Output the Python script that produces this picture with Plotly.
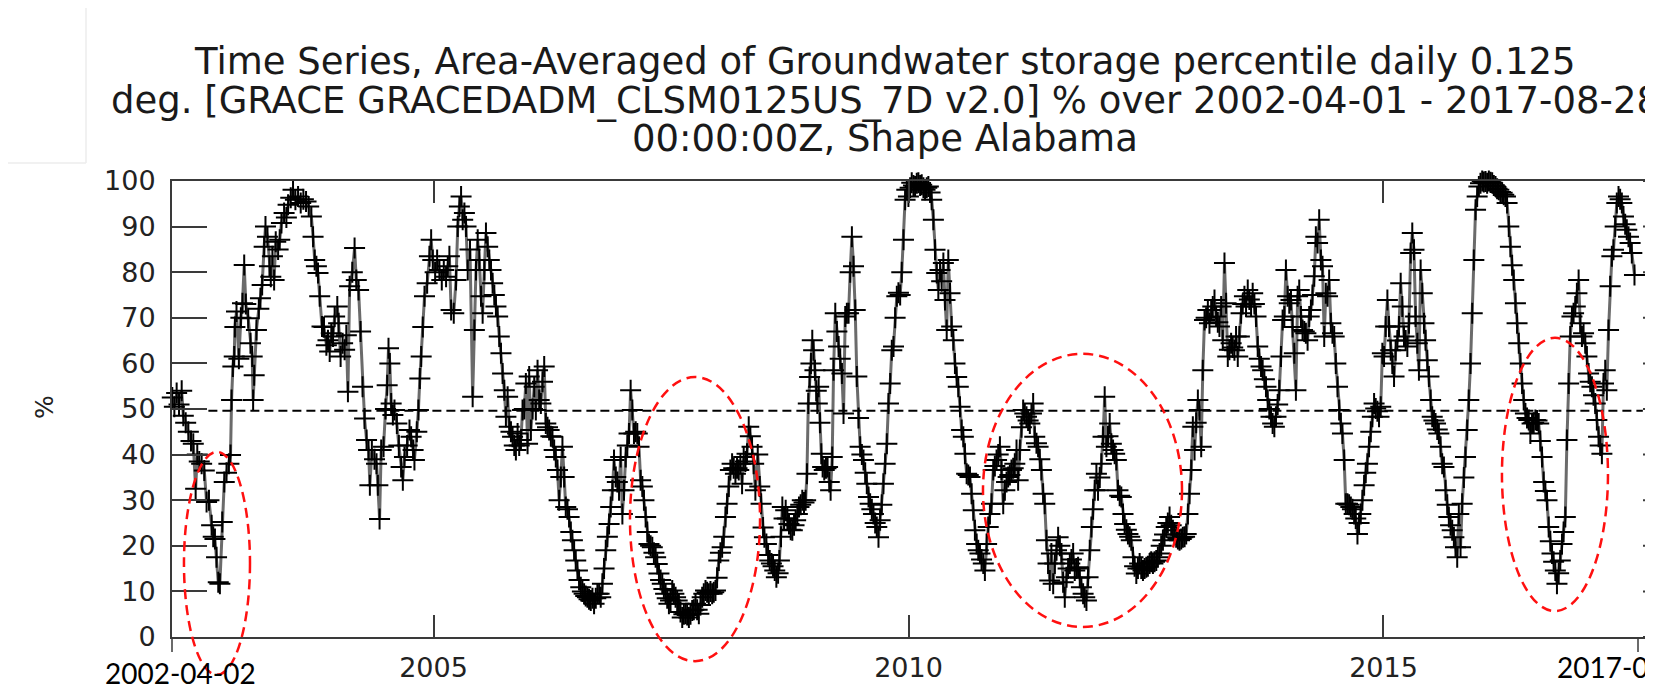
import plotly.graph_objects as go

# ---------------- data (decimal year, percentile) ----------------
years = [
 2002.250,2002.272,2002.296,2002.321,2002.349,2002.366,2002.391,2002.419,2002.447,2002.471,
 2002.496,2002.513,2002.534,2002.559,2002.587,2002.611,2002.636,2002.664,2002.681,2002.699,
 2002.716,2002.734,2002.751,2002.776,2002.797,2002.821,2002.846,2002.863,2002.874,2002.888,
 2002.902,2002.909,2002.926,2002.951,2002.972,2002.989,2003.007,2003.024,2003.049,2003.073,
 2003.091,2003.101,2003.112,2003.136,2003.161,2003.178,2003.196,2003.217,2003.231,2003.252,
 2003.273,2003.287,2003.304,2003.322,2003.339,2003.364,2003.381,2003.399,2003.427,2003.451,
 2003.469,2003.497,2003.521,2003.546,2003.574,2003.602,2003.630,2003.658,2003.686,2003.714,
 2003.732,2003.749,2003.767,2003.784,2003.802,2003.826,2003.847,2003.872,2003.889,2003.907,
 2003.924,2003.942,2003.959,2003.987,2004.001,2004.022,2004.043,2004.064,2004.082,2004.099,
 2004.117,2004.145,2004.169,2004.187,2004.211,2004.232,2004.253,2004.274,2004.295,2004.316,
 2004.330,2004.351,2004.379,2004.400,2004.414,2004.432,2004.449,2004.474,2004.495,2004.512,
 2004.526,2004.540,2004.554,2004.572,2004.589,2004.614,2004.635,2004.659,2004.677,2004.694,
 2004.722,2004.747,2004.764,2004.785,2004.799,2004.824,2004.841,2004.856,2004.870,2004.887,
 2004.905,2004.933,2004.957,2004.975,2004.992,2005.017,2005.038,2005.062,2005.087,2005.108,
 2005.132,2005.150,2005.167,2005.185,2005.213,2005.237,2005.255,2005.272,2005.290,2005.307,
 2005.325,2005.342,2005.360,2005.384,2005.412,2005.430,2005.447,2005.465,2005.482,2005.500,
 2005.517,2005.535,2005.552,2005.570,2005.587,2005.605,2005.622,2005.640,2005.657,2005.675,
 2005.692,2005.710,2005.727,2005.745,2005.762,2005.780,2005.797,2005.815,2005.832,2005.850,
 2005.867,2005.885,2005.902,2005.920,2005.937,2005.955,2005.972,2005.990,2006.007,2006.025,
 2006.042,2006.060,2006.077,2006.095,2006.112,2006.130,2006.147,2006.165,2006.182,2006.200,
 2006.217,2006.235,2006.252,2006.270,2006.287,2006.305,2006.322,2006.340,2006.357,2006.375,
 2006.392,2006.410,2006.427,2006.445,2006.462,2006.480,2006.497,2006.515,2006.532,2006.550,
 2006.567,2006.585,2006.602,2006.620,2006.637,2006.655,2006.673,2006.690,2006.708,2006.725,
 2006.743,2006.760,2006.778,2006.795,2006.813,2006.830,2006.848,2006.865,2006.883,2006.900,
 2006.918,2006.935,2006.953,2006.970,2006.988,2007.005,2007.023,2007.040,2007.058,2007.075,
 2007.093,2007.110,2007.128,2007.145,2007.163,2007.180,2007.198,2007.215,2007.233,2007.250,
 2007.268,2007.285,2007.303,2007.320,2007.338,2007.355,2007.373,2007.390,2007.408,2007.425,
 2007.443,2007.460,2007.478,2007.495,2007.513,2007.530,2007.548,2007.565,2007.583,2007.600,
 2007.618,2007.635,2007.653,2007.670,2007.688,2007.705,2007.723,2007.740,2007.758,2007.775,
 2007.793,2007.810,2007.828,2007.845,2007.863,2007.880,2007.898,2007.915,2007.933,2007.950,
 2007.968,2007.985,2008.003,2008.020,2008.038,2008.055,2008.073,2008.090,2008.108,2008.125,
 2008.143,2008.160,2008.178,2008.195,2008.213,2008.230,2008.248,2008.265,2008.283,2008.300,
 2008.318,2008.335,2008.353,2008.370,2008.388,
 2008.413,2008.434,2008.448,2008.469,2008.483,2008.504,2008.522,2008.539,2008.557,2008.574,
 2008.592,2008.609,2008.627,2008.641,2008.658,2008.672,2008.690,2008.707,2008.725,2008.742,
 2008.760,2008.777,2008.795,2008.812,2008.830,2008.847,2008.865,2008.882,2008.900,2008.917,
 2008.931,2008.945,2008.959,2008.973,2008.987,2009.001,2009.015,2009.029,2009.040,2009.054,
 2009.068,2009.082,2009.096,2009.113,2009.131,2009.148,2009.166,2009.180,2009.197,2009.211,
 2009.229,2009.246,2009.264,2009.281,2009.299,2009.316,2009.334,2009.351,2009.369,2009.386,
 2009.404,2009.421,2009.439,2009.456,2009.474,2009.491,2009.509,2009.526,2009.544,2009.561,
 2009.579,2009.596,2009.614,2009.631,2009.649,2009.666,2009.684,2009.701,2009.719,2009.736,
 2009.754,2009.772,2009.789,2009.807,2009.824,2009.842,2009.859,2009.877,2009.894,2009.912,
 2009.929,2009.947,2009.964,2009.982,2009.999,2010.017,2010.034,2010.052,2010.069,2010.087,
 2010.104,2010.122,2010.139,2010.157,2010.174,2010.192,2010.209,2010.227,2010.244,2010.262,
 2010.279,2010.297,2010.314,2010.332,2010.349,2010.367,2010.384,2010.402,2010.419,2010.437,
 2010.454,2010.472,2010.489,2010.507,2010.524,2010.542,2010.559,2010.577,2010.594,2010.612,
 2010.629,2010.647,2010.664,2010.682,2010.699,2010.717,2010.734,2010.752,2010.769,2010.787,
 2010.804,2010.822,2010.839,2010.857,2010.874,2010.892,2010.909,2010.927,2010.944,2010.962,
 2010.979,2010.997,2011.014,2011.032,2011.049,2011.067,2011.084,2011.102,2011.119,2011.137,
 2011.154,2011.172,2011.189,2011.207,2011.224,2011.242,2011.259,2011.277,2011.294,2011.312,
 2011.329,2011.347,2011.364,2011.382,2011.399,2011.417,2011.434,2011.452,2011.469,2011.487,
 2011.504,
 2011.523,2011.540,2011.558,2011.575,2011.593,2011.610,2011.628,2011.645,2011.663,2011.680,
 2011.698,2011.715,2011.733,2011.750,2011.768,2011.785,2011.803,2011.820,2011.838,2011.855,
 2011.873,2011.890,2011.908,2011.925,2011.943,2011.960,2011.978,2011.995,2012.013,2012.030,
 2012.048,2012.065,2012.083,2012.100,2012.118,2012.135,2012.153,2012.170,2012.188,2012.205,
 2012.223,2012.240,2012.258,2012.275,2012.293,2012.310,2012.328,2012.345,2012.363,2012.380,
 2012.398,2012.415,2012.433,2012.450,2012.468,2012.485,2012.503,2012.520,2012.538,2012.555,
 2012.573,2012.590,2012.608,2012.625,2012.643,2012.660,2012.678,2012.695,2012.713,2012.730,
 2012.748,2012.765,2012.783,2012.800,2012.818,2012.836,2012.853,2012.871,2012.888,2012.906,
 2012.923,2012.941,2012.958,2012.976,2012.993,2013.011,2013.028,2013.046,2013.063,2013.081,
 2013.098,2013.116,2013.133,2013.151,2013.168,2013.186,2013.203,2013.221,2013.238,2013.256,
 2013.273,2013.291,2013.308,2013.326,2013.343,2013.361,2013.378,2013.396,2013.413,2013.431,
 2013.448,2013.466,2013.483,2013.501,2013.518,2013.536,2013.553,2013.571,2013.588,2013.606,
 2013.623,2013.641,2013.658,2013.676,2013.693,2013.711,2013.728,2013.746,2013.763,2013.781,
 2013.798,2013.816,2013.833,2013.851,2013.868,2013.886,2013.903,2013.921,2013.938,2013.956,
 2013.973,2013.991,2014.008,2014.026,2014.043,2014.061,2014.078,2014.096,2014.113,2014.131,
 2014.148,2014.166,2014.183,2014.201,2014.218,2014.236,2014.253,2014.271,2014.288,2014.306,
 2014.323,2014.341,2014.358,2014.376,2014.393,2014.411,2014.428,2014.446,2014.463,2014.481,
 2014.498,2014.516,2014.533,2014.551,2014.568,2014.586,2014.603,
 2014.621,2014.638,2014.656,2014.673,2014.691,2014.708,2014.726,2014.743,2014.761,2014.778,
 2014.796,2014.813,2014.831,2014.848,2014.866,2014.883,2014.901,2014.918,2014.936,2014.953,
 2014.971,2014.988,2015.006,2015.023,2015.041,2015.058,2015.076,2015.093,2015.111,2015.128,
 2015.146,2015.163,2015.181,2015.198,2015.216,2015.233,2015.251,2015.268,2015.286,2015.303,
 2015.321,2015.338,2015.356,2015.373,2015.391,2015.408,2015.426,2015.443,2015.461,2015.478,
 2015.496,2015.513,2015.531,2015.548,2015.566,2015.583,2015.601,2015.618,2015.636,2015.653,
 2015.671,2015.688,2015.706,2015.723,2015.741,2015.758,2015.776,2015.793,2015.811,2015.828,
 2015.846,2015.863,2015.881,2015.898,2015.916,2015.934,2015.951,2015.969,2015.986,2016.004,
 2016.021,2016.039,2016.056,2016.074,2016.091,2016.109,2016.126,2016.144,2016.161,2016.179,
 2016.196,2016.214,2016.231,2016.249,2016.266,2016.284,2016.301,2016.319,2016.336,2016.354,
 2016.371,2016.389,2016.406,2016.424,2016.441,2016.459,2016.476,2016.494,2016.511,2016.529,
 2016.546,2016.564,2016.581,2016.599,2016.616,2016.634,2016.651,2016.669,2016.686,2016.704,
 2016.721,2016.739,2016.756,2016.774,2016.791,2016.809,2016.826,2016.844,2016.861,2016.879,
 2016.896,2016.914,2016.931,2016.949,2016.966,2016.984,2017.001,2017.019,2017.036,2017.054,
 2017.071,2017.089,2017.106,2017.124,2017.141,2017.159,2017.176,2017.194,2017.211,2017.229,
 2017.246,2017.264,2017.281,2017.299,2017.316,2017.334,2017.351,2017.369,2017.386,2017.404,
 2017.421,2017.439,2017.456,2017.474,2017.491,2017.509,2017.526,2017.544,2017.561,2017.579,
 2017.596,2017.614,2017.642,
]

gw_pct = [
 52.5,50.5,53.5,51,54,48.5,47,45,43,42.4,
 32.5,40,38.5,38,36.5,29.6,30,24.5,22,21.5,
 17.5,12,11.7,25.2,34,36,38,39.9,52,59.3,
 61.5,68,71.4,61,70,73.2,81.6,73,69.9,64.4,
 61.5,52,57.4,67.3,72,74.3,77.2,85.6,90,87.8,
 81.3,79,83.5,78.3,86.7,85,87.1,90.8,93,92,
 94.8,96.3,98.1,95.9,96.6,95.2,96,95.5,94.4,92.2,
 87.8,82.7,81.3,79.8,74.7,68.1,68,64,65.1,62.6,
 66.6,65.9,70.3,72.5,68.8,61.5,64.4,63,66.2,53.8,
 76.9,80,85.3,78.3,76.1,67,54.9,47.9,43.2,41,
 33.3,41,39,38,33.3,25.9,41,41.7,50,55.2,
 63.3,60,51.2,48.7,49.8,46.8,42,37.3,34.4,39.5,
 42,45.4,43.9,41,38.8,45,49.8,56.7,61.5,68,
 74.7,77.6,83.5,87.1,82.7,80,82.7,80.5,78.3,80.5,
 79,81.3,83.5,71.7,71,78.3,90,94.4,96.6,91.5,
 93,90,80.5,85,52.7,67.3,80.5,87.1,82.7,74.7,
 71,80.5,88.6,85.6,82.7,80.5,77.6,75,72.5,70.3,
 65.9,62.2,57.8,54.1,48.3,52.7,46.1,45,43.9,42,
 41,44.6,42,43.2,49.8,50,55.6,42.4,57.1,45.4,
 50,54.9,49.8,58.5,52,51.2,56,59.3,46.8,46,
 45.4,44,43.9,41,39.5,36.6,30,35.1,41.7,35.1,
 28.5,28,26.3,23,21.2,19,16.8,14.6,12.5,10.9,
 10,9.5,9,8.7,8.3,8,8.5,7.3,8.5,9.5,
 9.5,8.7,11.7,15,19,22,24.8,28.5,32.2,38.8,
 35.1,34,32.2,39.5,27,32.2,39.5,42,44.6,54.1,
 49.8,44.6,45,44.6,41.7,34.4,33,30,26.3,23,
 20.4,20,19.7,18.5,17.5,16,13.9,12.5,11.7,10.5,
 9.5,8.5,7.3,8,10.2,9.5,8.7,8,7.3,5.5,
 4.3,5,5.1,4.8,4.3,5,5.8,6,7.3,6,
 5.1,7,8.7,9.5,10.2,9.8,9.5,10,9.5,9.8,
 10.2,13,16.8,18.5,19.7,22,26.3,29.2,33,36.6,
 38,37,35.8,37,36.6,38,33.6,39.5,38.5,40.2,
 46.1,44,41.7,38,32.2,
 40,33,29.2,24,21.9,20.4,18,16.8,16.1,15.5,
 14.6,13.1,14,16.8,22,28.5,26,27.8,26,24.8,
 23.5,23.4,24.5,25.6,27,28.5,29,30,29.5,30,
 35.8,51.2,57,60,65.1,62.9,58.5,54,51.2,54.9,
 47,40.2,37.3,36.6,37,37.3,34,32.2,39.5,58.5,
 71,67,63.7,61,57.8,49,70.3,71,71,80,
 87.8,81.3,71.7,57.1,48,41.7,40,38.8,36,33.6,
 30.7,29.2,28,27,25,24.1,21.9,25.6,29,33.6,
 38,42.4,51.2,55.6,62.9,63.7,70,74.7,75.5,75,
 80,87.1,95.9,98.1,96.6,98.5,99.6,99,98.8,99.5,
 99.6,99,99.2,98.5,98.1,98.5,98.8,97.5,95.9,91.5,
 84.9,79.8,76.1,80.5,78,82,73.9,67.3,82.7,75.4,
 68.1,65.1,60,57,54.9,50.5,45.4,43.9,40.2,35.8,
 35.5,35.1,31.4,27.8,23.4,20.4,19,18.3,17,16.1,
 14.6,20.4,24.1,27,29.2,36.6,37.5,38.8,40,41.7,
 36.6,29.2,32.2,34,35.1,35.5,36.6,37,38,41,
 34.4,41,46,49.8,49,48.3,47.5,46.8,49,51.2,
 43.9,42.5,41.7,39,36.6,31.4,29.2,21.2,16.1,12.4,
 18.3,
 11.7,16.1,19,21.9,20,18.3,12,8.7,13.1,15,
 16.1,17,18.3,14.6,15,15.3,13,10.9,9.5,8.7,
 8,13.1,19,24.1,28,32.2,35.8,32.2,35,38,
 43.9,52.7,41.7,44,46.8,42.4,41,40.2,38.8,32.2,
 31,30.7,27,24.8,23.5,22.6,22,21.2,17.5,15.5,
 13.9,15,16.1,15,14.6,15,15.3,15.5,16.1,16.5,
 16.1,16.5,16.8,17.5,18.3,20,21.2,22.5,24.1,25,
 26.3,24.5,23.4,22.5,21.9,21.5,21.2,21.5,21.9,22,
 22.6,27,31.4,36.6,46.1,41,47,52,49.8,41.7,
 58.5,69.5,70,71.7,68.8,71.7,72.5,73.9,70.3,69,
 68.1,72.5,65.1,82,73.2,61.5,63,64.4,63.5,62.9,
 65.9,61.5,65.9,71,73,74.7,72.5,76.1,74,72.5,
 75.4,73,70.3,63.7,61,59.3,58.5,56.5,54.9,52,
 50,48.3,46.8,46.1,48.3,51,54.1,61.5,69.5,70.3,
 80.5,74.7,73.2,73.9,68,62.2,54.1,74.7,76.1,70.3,
 67.3,67,66.6,65.1,70.3,71.7,75,79.1,87.8,86.4,
 91.5,82.7,81.3,65.9,75.4,74.7,78.3,68.8,66.6,65.9,
 60,54.9,49.8,46.8,44.6,38.8,29.2,
 29.2,29,28.5,28,27,26,22.6,25,27,30,
 33.3,36,38,41.7,45,48.3,51.2,50.1,49.5,48.3,
 50.5,62.2,61.5,68.1,73.9,68.1,62.9,60,57.1,62.9,
 65,68.1,77.6,72.5,65.9,65,63.7,68.8,84.2,88.6,
 84.9,70.3,64.4,58.5,80.5,75.4,68.8,65.1,60.7,57.1,
 52,48.3,47.5,46.8,45.5,44.6,41.7,38,37.3,32.2,
 29,26.3,24.5,23.4,21.9,19.7,17.5,27,19.7,29.2,
 35,39.5,45.4,52,60,71,82.7,93.7,96.6,98.8,
 99.5,100,99.8,99.9,99.5,100,99.7,99.6,99,98.8,
 98.3,98.1,97.6,97.4,97,96.6,95.2,90,85.6,81.5,
 78.3,73.2,68.8,64.4,60,55.6,52,49,48,47.6,
 44.6,46.8,47,47.6,47.5,46.8,43,39.5,34,32,
 30,24.1,21,18.3,16.5,14.6,11.7,14,16.8,20.4,
 23,26.3,43.2,55.6,65.9,70.3,71,72.5,75.4,78.3,
 68.8,65.9,66.6,64.4,61.5,57.8,56,54.9,53,51.2,
 47.6,43.9,42,40.2,55.6,58.5,54.1,67.3,76.9,83.5,
 84.9,90,95.2,96.6,96,95.2,92.2,90.5,89.3,87.8,
 86.4,84.2,79.4,
]

x_tick_vals = [2005, 2010, 2015]
x_tick_text = ["2005", "2010", "2015"]
y_tick_vals = [0, 10, 20, 30, 40, 50, 60, 70, 80, 90, 100]
median_level = 49.6
x_range = [2002.247, 2017.837]

title_lines = [
    "Time Series, Area-Averaged of Groundwater storage percentile daily 0.125",
    "deg. [GRACE GRACEDADM_CLSM0125US_7D v2.0] % over 2002-04-01 - 2017-08-28",
    "00:00:00Z, Shape Alabama",
]
start_label = "2002-04-02"
end_label = "2017-08-28"

# highlighted dry periods (years, percent)
ellipses = [
    (2002.373, 2003.068, -8.3, 40.6),
    (2007.068, 2008.437, -5.3, 57.0),
    (2010.784, 2012.879, 2.2, 62.1),
    (2016.247, 2017.363, 5.7, 65.6),
]

# ---------------- figure ----------------
# the page body has an 8px margin, so the figure is drawn 8px smaller / offset
OFF = 8
W, H = 1653 - OFF, 693 - OFF
ML, MR, MT, MB = 172 - OFF, 0, 181 - OFF, 56
PW = W - ML - MR
PH = H - MT - MB

def px_x(p):   # page pixel -> paper x
    return (p - OFF - ML) / PW

def px_y(p):   # page pixel -> paper y
    return (H - MB - (p - OFF)) / PH

fig = go.Figure()
fig.add_trace(go.Scatter(
    x=years, y=gw_pct, mode="lines+markers",
    line=dict(color="rgba(70,70,70,0.8)", width=3),
    marker=dict(symbol="cross-thin", size=15, color="black",
                line=dict(width=2, color="black")),
    cliponaxis=False, showlegend=False,
))

axis_col = "#3a3a3a"
tick_font = dict(family="DejaVu Sans", size=27, color="#222")

fig.update_layout(
    width=W, height=H,
    margin=dict(l=ML, r=MR, t=MT, b=MB, pad=0),
    paper_bgcolor="white", plot_bgcolor="white",
    xaxis=dict(range=x_range, tickvals=x_tick_vals, ticktext=x_tick_text,
               showgrid=False, zeroline=False, showline=True, linewidth=2,
               linecolor=axis_col, mirror="ticks", ticks="inside", ticklen=22,
               tickwidth=2, tickcolor=axis_col, tickfont=tick_font,
               ticklabelstandoff=6),
    yaxis=dict(range=[0, 100], tickvals=y_tick_vals,
               showgrid=False, zeroline=False, showline=True, linewidth=2,
               linecolor=axis_col, ticks="inside", ticklen=35, tickwidth=2,
               tickcolor=axis_col, tickfont=tick_font, ticklabelstandoff=9),
    font=dict(family="DejaVu Sans", color="#222"),
)

shapes = []
# faint frame of the pasted title region
shapes.append(dict(type="line", xref="paper", yref="paper", x0=px_x(86), x1=px_x(86),
                   y0=px_y(0), y1=px_y(163), line=dict(color="#ececec", width=1.5)))
shapes.append(dict(type="line", xref="paper", yref="paper", x0=px_x(8), x1=px_x(86),
                   y0=px_y(163), y1=px_y(163), line=dict(color="#ececec", width=1.5)))
# median dashed line
shapes.append(dict(type="line", xref="x", yref="y", x0=2002.63, x1=2017.73,
                   y0=median_level, y1=median_level,
                   line=dict(color="black", width=2, dash="9px,5px")))
# right-edge y ticks (axis itself lies beyond the cropped image)
for v in y_tick_vals:
    shapes.append(dict(type="line", xref="paper", yref="y", x0=px_x(1643), x1=1.0,
                       y0=v, y1=v, line=dict(color=axis_col, width=2)))
# small ticks under the start / end date labels
shapes.append(dict(type="line", xref="paper", yref="paper", x0=0, x1=0,
                   y0=0, y1=px_y(652), line=dict(color=axis_col, width=1.5)))
shapes.append(dict(type="line", xref="paper", yref="paper", x0=px_x(1638), x1=px_x(1638),
                   y0=0, y1=px_y(652), line=dict(color=axis_col, width=1.5)))
# red dashed ellipses
for x0, x1, y0, y1 in ellipses:
    shapes.append(dict(type="circle", xref="x", yref="paper", x0=x0, x1=x1,
                       y0=y0 / 100.0, y1=y1 / 100.0,
                       line=dict(color="#ff1010", width=2.5, dash="10px,6px")))
fig.update_layout(shapes=shapes)

ann = []
title_y_px = [62, 100, 138]
for line, ypx in zip(title_lines, title_y_px):
    ann.append(dict(text=line, xref="paper", yref="paper", x=px_x(885), y=px_y(ypx),
                    xanchor="center", yanchor="middle", showarrow=False,
                    font=dict(family="DejaVu Sans", size=37, color="#1a1a1a")))
ann.append(dict(text="%", xref="paper", yref="paper", x=px_x(44), y=px_y(407),
                xanchor="center", yanchor="middle", showarrow=False, textangle=-90,
                font=dict(family="DejaVu Sans", size=25, color="#222")))
ann.append(dict(text=start_label, xref="paper", yref="paper", x=px_x(180), y=px_y(673),
                xanchor="center", yanchor="middle", showarrow=False,
                font=dict(family="Lato", size=28, color="black")))
ann.append(dict(text=end_label, xref="paper", yref="paper", x=px_x(1555), y=px_y(667),
                xanchor="left", yanchor="middle", showarrow=False,
                font=dict(family="Lato", size=28, color="black")))
fig.update_layout(annotations=ann)

fig.write_html("out.html")
